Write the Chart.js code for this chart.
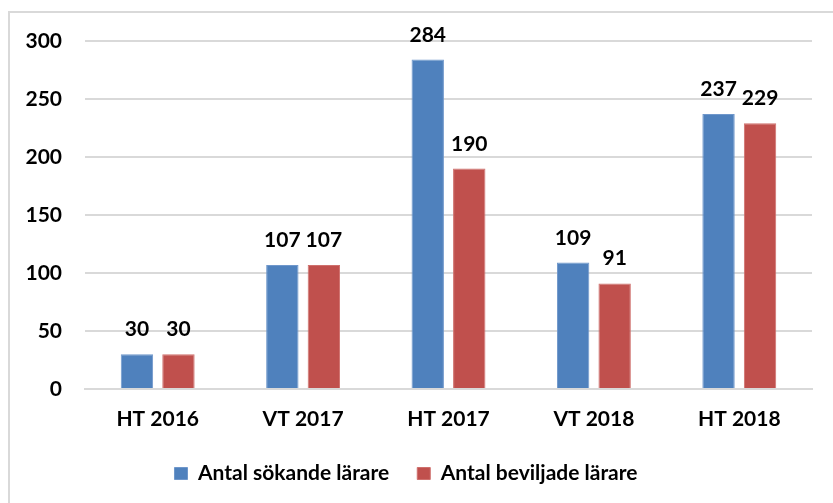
<!DOCTYPE html>
<html>
<head>
<meta charset="utf-8">
<script src="https://cdn.jsdelivr.net/npm/chart.js@4/dist/chart.umd.min.js"></script>
<style>
  html, body { margin:0; padding:0; background:#fff; }
  #wrap { position:relative; width:833px; height:503px; overflow:hidden; }
  #frame { position:absolute; left:8px; top:11px; width:900px; height:600px; border:2px solid #d9d9d9; box-sizing:border-box; }
  canvas { position:absolute; left:0; top:0; }
</style>
</head>
<body>
<div id="wrap">
  <div id="frame"></div>
  <canvas id="chart" width="833" height="503"></canvas>
</div>
<script>
const terms = ["HT 2016", "VT 2017", "HT 2017", "VT 2018", "HT 2018"];
const sokande = [30, 107, 284, 109, 237];
const beviljade = [30, 107, 190, 91, 229];
const yTicks = { min: 0, max: 300, step: 50 };

const FONT = { family: "Lato", size: 21, weight: "bold" };

// draws the value above each bar
const barLabels = {
  id: "barLabels",
  afterDatasetsDraw(chart){
    const ctx = chart.ctx;
    ctx.save();
    ctx.font = `bold ${FONT.size}px ${FONT.family}`;
    ctx.fillStyle = "#000";
    ctx.textAlign = "center";
    ctx.textBaseline = "alphabetic";
    chart.data.datasets.forEach((ds, i) => {
      chart.getDatasetMeta(i).data.forEach((bar, j) => {
        ctx.fillText(String(ds.data[j]), bar.x, bar.y - 18);
      });
    });
    ctx.restore();
  }
};

new Chart(document.getElementById("chart"), {
  type: "bar",
  data: {
    labels: terms,
    datasets: [
      { label: "Antal sökande lärare", data: sokande, backgroundColor: "#4f81bd", borderColor: "#6f97cb", borderWidth: 1 },
      { label: "Antal beviljade lärare", data: beviljade, backgroundColor: "#c0504d", borderColor: "#cf706d", borderWidth: 1 },
    ]
  },
  options: {
    responsive: false, animation: false,
    categoryPercentage: 0.571, barPercentage: 0.78,
    layout: { padding: { top: 41, right: 21, left: 0, bottom: 9 } },
    scales: {
      x: {
        grid: { display: false, drawTicks: false },
        border: { color: "#d9d9d9", width: 2 },
        ticks: { color: "#000", font: FONT, padding: 18 },
        afterFit(s){ s.height = 46; }
      },
      y: {
        min: yTicks.min, max: yTicks.max,
        grid: { color: "#d9d9d9", lineWidth: 2, drawTicks: false },
        border: { display: false },
        ticks: { stepSize: yTicks.step, color: "#000", font: FONT, padding: 23 },
        afterFit(s){ s.width = 85; }
      }
    },
    plugins: {
      legend: {
        position: "bottom",
        labels: { color: "#000", font: FONT, boxWidth: 13, boxHeight: 12, padding: 28 }
      },
      tooltip: { enabled: false }
    }
  },
  plugins: [barLabels]
});
</script>
</body>
</html>
